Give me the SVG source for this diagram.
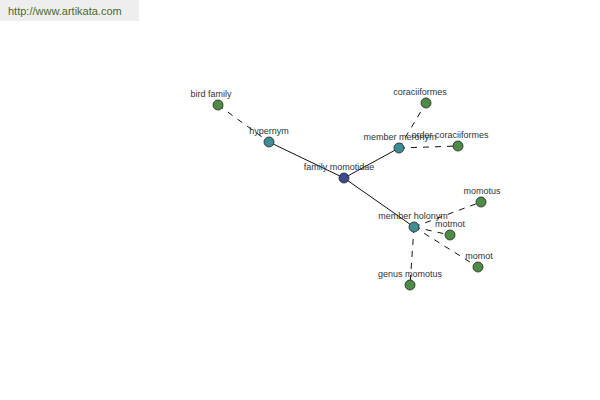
<svg xmlns="http://www.w3.org/2000/svg" width="600" height="400" viewBox="0 0 600 400">
<style>
.n{stroke:#222;stroke-width:0.8}
.g{fill:#4e8c46}.t{fill:#3e8c94}.b{fill:#3d4a8e}
.l{font-family:"Liberation Sans",Arial,sans-serif;font-size:9px;fill:#333;text-anchor:middle}
.s{stroke:#111;stroke-width:1;fill:none}
.d{stroke:#111;stroke-width:1;fill:none;stroke-dasharray:6,6}
</style>
<rect x="0" y="0" width="600" height="400" fill="#fff"/>
<rect x="0" y="0" width="139" height="21" fill="#eeeeee"/>
<text x="8" y="15" font-family="Liberation Sans,Arial,sans-serif" font-size="11" fill="#4a6a2a">http://www.artikata.com</text>
<g id="connectors">
<line class="d" x1="218" y1="105" x2="269" y2="142"/>
<line class="s" x1="269" y1="142" x2="344" y2="178"/>
<line class="s" x1="344" y1="178" x2="399" y2="148"/>
<line class="s" x1="344" y1="178" x2="414" y2="227"/>
<line class="d" x1="399" y1="148" x2="426" y2="103"/>
<line class="d" x1="399" y1="148" x2="458" y2="146"/>
<line class="d" x1="414" y1="227" x2="481" y2="202"/>
<line class="d" x1="414" y1="227" x2="450" y2="235"/>
<line class="d" x1="414" y1="227" x2="478" y2="267"/>
<line class="d" x1="414" y1="227" x2="410" y2="285"/>
</g>
<g id="bird-family"><circle class="n g" cx="218" cy="105" r="5"/><text class="l" x="211" y="97">bird family</text></g>
<g id="hypernym"><circle class="n t" cx="269" cy="142" r="5"/><text class="l" x="269" y="134">hypernym</text></g>
<g id="family-momotidae"><circle class="n b" cx="344" cy="178" r="5"/><text class="l" x="339" y="170">family momotidae</text></g>
<g id="member-meronym"><circle class="n t" cx="399" cy="148" r="5"/><text class="l" x="400" y="140">member meronym</text></g>
<g id="coraciiformes"><circle class="n g" cx="426" cy="103" r="5"/><text class="l" x="420" y="95">coraciiformes</text></g>
<g id="order-coraciiformes"><circle class="n g" cx="458" cy="146" r="5"/><text class="l" x="450" y="138">order coraciiformes</text></g>
<g id="member-holonym"><circle class="n t" cx="414" cy="227" r="5"/><text class="l" x="413" y="219">member holonym</text></g>
<g id="momotus"><circle class="n g" cx="481" cy="202" r="5"/><text class="l" x="482" y="194">momotus</text></g>
<g id="motmot"><circle class="n g" cx="450" cy="235" r="5"/><text class="l" x="450" y="227">motmot</text></g>
<g id="momot"><circle class="n g" cx="478" cy="267" r="5"/><text class="l" x="479" y="259">momot</text></g>
<g id="genus-momotus"><circle class="n g" cx="410" cy="285" r="5"/><text class="l" x="410" y="277">genus momotus</text></g>
</svg>
